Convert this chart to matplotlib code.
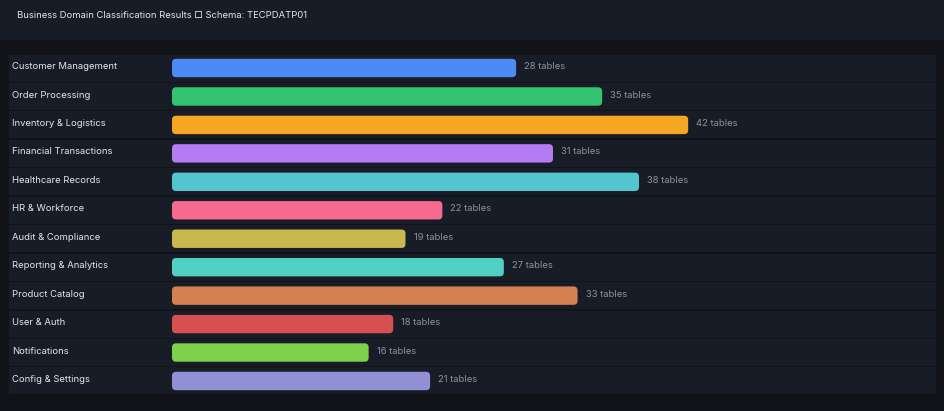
import matplotlib
matplotlib.use("Agg")
import matplotlib.pyplot as plt
from matplotlib.patches import FancyBboxPatch, Rectangle
from matplotlib.transforms import blended_transform_factory

plt.rcParams["font.family"] = ["Inter", "DejaVu Sans"]

domains = [
    "Customer Management", "Order Processing", "Inventory & Logistics",
    "Financial Transactions", "Healthcare Records", "HR & Workforce",
    "Audit & Compliance", "Reporting & Analytics", "Product Catalog",
    "User & Auth", "Notifications", "Config & Settings",
]
table_counts = [28, 35, 42, 31, 38, 22, 19, 27, 33, 18, 16, 21]
bar_colors = [
    "#4d8af5", "#34c471", "#f5a623", "#b57bf5", "#52c5cf", "#f56b8f",
    "#c8b850", "#4fd0c2", "#d4814f", "#d65050", "#7fd14d", "#9290d4",
]
title = "Business Domain Classification Results \u25a1 Schema: TECPDATP01"

W, H = 944, 411
BG = "#111319"
PANEL = "#181c26"

fig = plt.figure(figsize=(W / 100, H / 100), dpi=100)
fig.patch.set_facecolor(BG)

# header band
fig.patches.append(Rectangle((0, 1 - 40 / H), 1, 40 / H, transform=fig.transFigure,
                             facecolor=PANEL, edgecolor="none", zorder=0))
fig.text(17 / W, 1 - 16 / H, title, color="#e4e6ea", fontsize=6.8, va="center", ha="left")

# plot area: x from 9 to 936 px, y from 54 to 395 px
px_per_unit = 12.29
x0_px, left_px, right_px = 172, 9, 936
top_px, bot_px = 53.8, 395.2
ax = fig.add_axes([left_px / W, 1 - bot_px / H, (right_px - left_px) / W, (bot_px - top_px) / H])
ax.set_facecolor(BG)
ax.set_xlim(-(x0_px - left_px) / px_per_unit, (right_px - x0_px) / px_per_unit)
ax.set_ylim(len(domains) - 0.5, -0.5)
ax.axis("off")

row_h = 27 / 28.45
bar_h = 18.4 / 28.45
aspect = px_per_unit / 28.45
xmin, xmax = ax.get_xlim()

for i, name in enumerate(domains):
    ax.add_patch(Rectangle((xmin, i - row_h / 2), xmax - xmin, row_h, facecolor=PANEL,
                           edgecolor="none", zorder=0))

bars = ax.barh(range(len(domains)), table_counts, height=bar_h, color=bar_colors)
for rect, c in zip(bars, bar_colors):
    rect.set_visible(False)
    ax.add_patch(FancyBboxPatch((rect.get_x(), rect.get_y()), rect.get_width(), rect.get_height(),
                                boxstyle="round,pad=0,rounding_size=0.33", mutation_aspect=aspect,
                                facecolor=c, edgecolor="none", zorder=2))

tr = blended_transform_factory(fig.transFigure, ax.transData)
for i, (name, v) in enumerate(zip(domains, table_counts)):
    fig.text(12 / W, i - 0.05, name, transform=tr, color="#e4e6ea", fontsize=6.8,
             va="center", ha="left")
    ax.text(v + 8 / px_per_unit, i - 0.05, f"{v} tables", color="#8d929c", fontsize=6.8,
            va="center", ha="left")

fig.savefig("out.png", dpi=100, facecolor=BG)
